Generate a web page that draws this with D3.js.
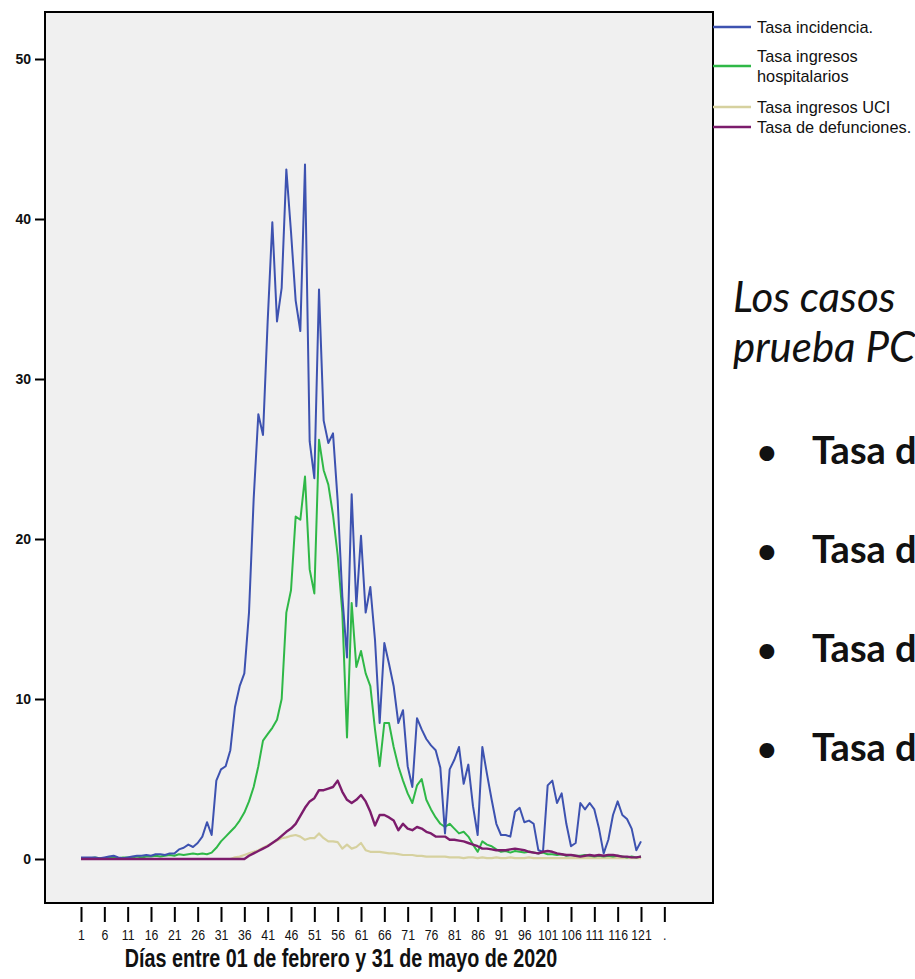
<!DOCTYPE html>
<html>
<head>
<meta charset="utf-8">
<script src="https://cdn.jsdelivr.net/npm/d3@7/dist/d3.min.js"></script>
<style>
  html, body { margin: 0; padding: 0; background: #ffffff; overflow: hidden; }
  svg { display: block; }
</style>
</head>
<body>
<svg id="chart" width="915" height="979"></svg>
<script>
// Daily rates, 1 Feb – 31 May 2020 (day 1 … 121)
const incidencia = [
  0.1, 0.1, 0.1, 0.1, 0.05, 0.1, 0.15, 0.2, 0.1, 0.05,
  0.1, 0.15, 0.2, 0.2, 0.25, 0.2, 0.3, 0.3, 0.25, 0.35,
  0.35, 0.6, 0.7, 0.9, 0.75, 1.0, 1.4, 2.3, 1.5, 4.9,
  5.6, 5.8, 6.8, 9.5, 10.8, 11.6, 15.4, 22.5, 27.8, 26.5,
  33.6, 39.8, 33.6, 35.7, 43.1, 39.2, 34.9, 33.0, 43.4, 26.1,
  23.8, 35.6, 27.4, 26.0, 26.6, 22.4, 16.4, 12.6, 22.8, 15.8,
  20.2, 15.4, 17.0, 13.7, 8.5, 13.5, 12.2, 10.8, 8.5, 9.3,
  5.8, 4.5, 8.8, 8.1, 7.5, 7.1, 6.8, 5.7, 1.6, 5.6,
  6.2, 7.0, 4.7, 5.9, 3.3, 1.5, 7.0, 5.3, 3.7, 2.2,
  1.5, 1.5, 1.4, 2.95, 3.2, 2.3, 2.4, 2.2, 0.55, 0.45,
  4.6, 4.9, 3.5, 4.1, 2.2, 0.8, 1.0, 3.5, 3.1, 3.5,
  3.1, 1.9, 0.35, 1.2, 2.75, 3.6, 2.75, 2.5, 1.9, 0.55,
  1.1
];
const hospitalarios = [
  0.05, 0.05, 0.05, 0.1, 0.05, 0.05, 0.1, 0.1, 0.05, 0.1,
  0.1, 0.1, 0.15, 0.1, 0.15, 0.15, 0.2, 0.15, 0.2, 0.25,
  0.2, 0.3, 0.25, 0.3, 0.35, 0.3, 0.35, 0.3, 0.4, 0.7,
  1.1, 1.4, 1.7, 2.0, 2.4, 2.9, 3.6, 4.5, 5.8, 7.4,
  7.8, 8.2, 8.7, 10.0, 15.4, 16.8, 21.4, 21.2, 23.9, 18.1,
  16.6, 26.2, 24.3, 23.4, 21.5, 19.0, 15.4, 7.6, 16.0, 12.0,
  13.0, 11.6, 10.8, 8.1, 5.8, 8.5, 8.5, 7.0, 5.8, 4.9,
  4.1, 3.5, 4.6, 5.0, 3.7, 3.1, 2.6, 2.2, 2.0, 2.2,
  1.9, 1.6, 1.7, 1.4, 0.9, 0.45, 1.1, 0.9, 0.8, 0.6,
  0.45, 0.5, 0.4, 0.5, 0.45, 0.4, 0.45, 0.4, 0.35, 0.4,
  0.3, 0.3, 0.25, 0.3, 0.2, 0.25, 0.2, 0.2, 0.25, 0.2,
  0.15, 0.2, 0.15, 0.2, 0.15, 0.2, 0.15, 0.1, 0.15, 0.1,
  0.15
];
const uci = [
  0, 0, 0, 0, 0, 0, 0, 0, 0, 0,
  0, 0, 0, 0, 0, 0, 0, 0, 0, 0,
  0, 0, 0, 0, 0, 0, 0, 0, 0, 0,
  0, 0, 0, 0.1, 0.15, 0.25, 0.35, 0.45, 0.55, 0.7,
  0.85, 1.0, 1.15, 1.3, 1.35, 1.45, 1.5, 1.4, 1.2, 1.3,
  1.3, 1.6, 1.3, 1.1, 1.1, 1.05, 0.65, 0.9, 0.65, 0.75,
  1.0, 0.55, 0.45, 0.45, 0.45, 0.4, 0.35, 0.35, 0.3, 0.25,
  0.25, 0.25, 0.2, 0.2, 0.15, 0.15, 0.15, 0.15, 0.15, 0.1,
  0.1, 0.1, 0.05, 0.1, 0.1, 0.05, 0.1, 0.05, 0.05, 0.1,
  0.05, 0.05, 0.1, 0.05, 0.05, 0.05, 0.1, 0.05, 0.05, 0.05,
  0.05, 0.05, 0.05, 0.05, 0.05, 0.05, 0.05, 0.05, 0.05, 0.05,
  0.05, 0.05, 0.05, 0.05, 0.05, 0.05, 0.05, 0.05, 0.05, 0.05,
  0.05
];
const defunciones = [
  0, 0, 0, 0, 0, 0, 0, 0, 0, 0,
  0, 0, 0, 0, 0, 0, 0, 0, 0, 0,
  0, 0, 0, 0, 0, 0, 0, 0, 0, 0,
  0, 0, 0, 0, 0, 0, 0.2, 0.35, 0.5, 0.65,
  0.8, 1.0, 1.2, 1.45, 1.7, 1.9, 2.2, 2.7, 3.2, 3.6,
  3.8, 4.3, 4.3, 4.4, 4.5, 4.9, 4.2, 3.7, 3.5, 3.7,
  4.0, 3.6, 2.95, 2.1, 2.75, 2.75, 2.6, 2.4, 1.8, 2.2,
  1.9, 1.8, 2.0, 1.9, 1.7, 1.6, 1.4, 1.4, 1.4, 1.2,
  1.2, 1.15, 1.1, 1.0, 0.9, 0.8, 0.65, 0.65, 0.6, 0.55,
  0.55, 0.55, 0.6, 0.65, 0.6, 0.55, 0.45, 0.4, 0.35, 0.45,
  0.5, 0.45, 0.35, 0.3, 0.25, 0.25, 0.2, 0.15, 0.2, 0.25,
  0.2, 0.25, 0.2, 0.25, 0.25, 0.2, 0.15, 0.15, 0.1, 0.1,
  0.15
];

const seriesNames = ["Tasa incidencia.", ["Tasa ingresos", "hospitalarios"], "Tasa ingresos UCI", "Tasa de defunciones."];
const seriesColors = ["#3d52b0", "#2fb847", "#d6d19f", "#7c1c6c"];
const xTickValues = [1, 6, 11, 16, 21, 26, 31, 36, 41, 46, 51, 56, 61, 66, 71, 76, 81, 86, 91, 96, 101, 106, 111, 116, 121, 126];
const xTickLabels = ["1", "6", "11", "16", "21", "26", "31", "36", "41", "46", "51", "56", "61", "66", "71", "76", "81", "86", "91", "96", "101", "106", "111", "116", "121", "."];
const yTickValues = [0, 10, 20, 30, 40, 50];
const xTitle = "Días entre 01 de febrero y 31 de mayo de 2020";
const sideIntro = ["Los casos", "prueba PC"];
const sideBullets = ["Tasa d", "Tasa d", "Tasa d", "Tasa d"];

const svg = d3.select("#chart");
const SANS = "'Liberation Sans', Arial, sans-serif";
const NARROW = 0.82; // horizontal squeeze for the condensed chart lettering

// plot frame
const frame = { left: 45, top: 12, right: 713, bottom: 903 };

const x = d3.scaleLinear().domain([1, 121]).range([81, 641]);
const y = d3.scaleLinear().domain([0, 50]).range([859, 59]);

svg.append("rect")
  .attr("x", frame.left).attr("y", frame.top)
  .attr("width", frame.right - frame.left).attr("height", frame.bottom - frame.top)
  .attr("fill", "#f0f0f0")
  .attr("stroke", "#000").attr("stroke-width", 2);

// y axis
const yAxis = svg.append("g")
  .attr("transform", `translate(${frame.left},0)`)
  .call(d3.axisLeft(y).tickValues(yTickValues).tickSize(10).tickPadding(4));
yAxis.select(".domain").remove();
yAxis.selectAll(".tick line").attr("stroke", "#000").attr("stroke-width", 2);
yAxis.selectAll(".tick text")
  .attr("font-family", SANS)
  .attr("font-size", 14).attr("font-weight", "bold").attr("fill", "#111");

// x axis (sits slightly below the frame)
const xAxis = svg.append("g")
  .attr("transform", "translate(0,907)")
  .call(d3.axisBottom(x).tickValues(xTickValues).tickSize(15).tickPadding(7)
    .tickFormat((d, i) => xTickLabels[i]));
xAxis.select(".domain").remove();
xAxis.selectAll(".tick line").attr("stroke", "#000").attr("stroke-width", 2);
xAxis.selectAll(".tick text")
  .attr("font-family", SANS)
  .attr("transform", `scale(${NARROW},1)`)
  .attr("font-size", 15).attr("fill", "#111");

svg.append("text")
  .attr("transform", `translate(341,967) scale(0.79,1)`)
  .attr("text-anchor", "middle")
  .attr("font-family", SANS)
  .attr("font-size", 25).attr("font-weight", "bold").attr("fill", "#111")
  .text(xTitle);

// lines
const days = d3.range(1, 122);
const line = d3.line().x((d, i) => x(days[i])).y(d => y(d));
const drawOrder = [
  { data: uci, color: seriesColors[2], w: 2.2 },
  { data: hospitalarios, color: seriesColors[1], w: 2 },
  { data: incidencia, color: seriesColors[0], w: 2 },
  { data: defunciones, color: seriesColors[3], w: 2.4 }
];
drawOrder.forEach(s => {
  svg.append("path")
    .attr("d", line(s.data))
    .attr("fill", "none")
    .attr("stroke", s.color)
    .attr("stroke-width", s.w)
    .attr("stroke-linejoin", "round");
});

// legend
const legend = svg.append("g");
const legendRows = [27, 66, 107, 127];
seriesNames.forEach((name, i) => {
  const ly = legendRows[i];
  legend.append("line")
    .attr("x1", 713).attr("x2", 751).attr("y1", ly).attr("y2", ly)
    .attr("stroke", seriesColors[i]).attr("stroke-width", 2.5);
  const lines = Array.isArray(name) ? name : [name];
  const startY = ly - (lines.length - 1) * 10 + 6;
  lines.forEach((t, j) => {
    legend.append("text")
      .attr("transform", `translate(757,${startY + j * 20}) scale(0.96,1)`)
      .attr("font-family", SANS)
      .attr("font-size", 17).attr("fill", "#111")
      .text(t);
  });
});

// side notes
const notes = svg.append("g").attr("font-family", "Lato, 'Open Sans', sans-serif");
sideIntro.forEach((t, i) => {
  notes.append("text")
    .attr("x", 733).attr("y", 312 + i * 50)
    .attr("font-size", 42).attr("font-style", "italic").attr("fill", "#111")
    .text(t);
});
sideBullets.forEach((t, i) => {
  const by = 464 + i * 99;
  notes.append("text")
    .attr("x", 757).attr("y", by)
    .attr("font-size", 34).attr("font-weight", "bold").attr("fill", "#111")
    .text("•");
  notes.append("text")
    .attr("x", 812).attr("y", by)
    .attr("font-size", 38).attr("font-weight", "bold").attr("fill", "#111")
    .text(t);
});
</script>
</body>
</html>
